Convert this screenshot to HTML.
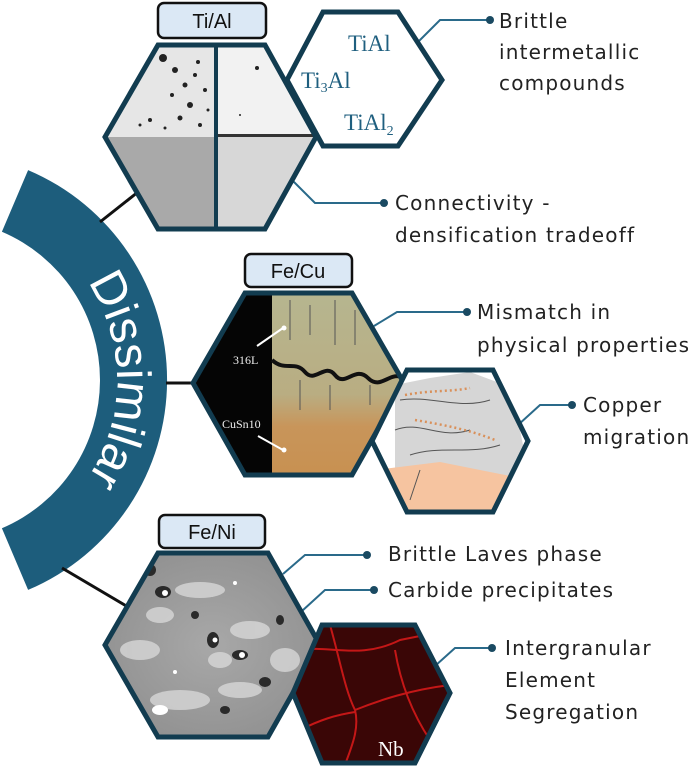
<!DOCTYPE html>
<html><head><meta charset="utf-8"><style>
html,body{margin:0;padding:0;background:#fff;}
svg{display:block;}
.lb{font-family:"DejaVu Sans","Liberation Sans",sans-serif;font-size:20px;letter-spacing:1.2px;fill:#222;}
.tag{font-family:"Liberation Sans",sans-serif;font-size:20px;fill:#111;}
.ser{font-family:"Liberation Serif",serif;fill:#1f5f7f;font-size:23px;}
</style></head><body>
<svg width="699" height="768" viewBox="0 0 699 768" xmlns="http://www.w3.org/2000/svg">
<defs>
<clipPath id="h1"><polygon points="105,137 158,45 265,45 316,137 265,229 158,229"/></clipPath>
<clipPath id="h2"><polygon points="193,383 245,293 352,293 404,383 352,475 245,475"/></clipPath>
<clipPath id="h3"><polygon points="372,441 407,370 493,370 528,441 493,512 407,512"/></clipPath>
<clipPath id="h4"><polygon points="105,645 158,553 268,553 320,645 268,737 158,737"/></clipPath>
<clipPath id="h5"><polygon points="293,693 322,625 415,625 450,693 415,763 322,763"/></clipPath>
<linearGradient id="cu" x1="0" y1="0" x2="0" y2="1"><stop offset="0" stop-color="#b6b690"/><stop offset="0.55" stop-color="#b9ad82"/><stop offset="0.72" stop-color="#c8955a"/><stop offset="1" stop-color="#c89050"/></linearGradient>
<radialGradient id="sem" cx="0.5" cy="0.5" r="0.7"><stop offset="0" stop-color="#a8a8a8"/><stop offset="1" stop-color="#8a8a8a"/></radialGradient>
<path id="arcp" d="M 28 225.8 A 178 178 0 0 1 28 534.2"/>
</defs>

<path d="M 28.1 170.1 A 228 228 0 0 1 28.1 589.9 L 1.9 528.2 A 161 161 0 0 0 1.9 231.8 Z" fill="#1d5d7c"/>
<text font-family="Liberation Sans,sans-serif" font-size="48" fill="#fff"><textPath href="#arcp" startOffset="50%" text-anchor="middle">Dissimilar</textPath></text>

<line x1="100" y1="222" x2="138" y2="192" stroke="#111" stroke-width="3"/>
<line x1="166" y1="383" x2="195" y2="383" stroke="#111" stroke-width="3"/>
<line x1="62" y1="568" x2="128" y2="607" stroke="#111" stroke-width="3"/>

<g stroke="#2a6a8a" stroke-width="2" fill="none">
<polyline points="418,42 440,20 488,20"/>
<polyline points="292,180 315,203 382,203"/>
<polyline points="374,326 397,312 465,312"/>
<polyline points="518,425 540,405 570,405"/>
<polyline points="283,574 305,555 365,555"/>
<polyline points="302,611 325,590 372,590"/>
<polyline points="435,666 455,648 490,648"/>
</g>
<g fill="#1a4a62">
<circle cx="490" cy="20" r="4"/><circle cx="384" cy="203" r="4"/><circle cx="467" cy="312" r="4"/><circle cx="572" cy="405" r="4"/><circle cx="367" cy="555" r="4"/><circle cx="374" cy="590" r="4"/><circle cx="492" cy="648" r="4"/>
</g>
<g class="lb">
<text x="499" y="28">Brittle</text><text x="499" y="59">intermetallic</text><text x="499" y="90">compounds</text>
<text x="395" y="210">Connectivity -</text><text x="395" y="242">densification tradeoff</text>
<text x="477" y="319">Mismatch in</text><text x="477" y="352">physical properties</text>
<text x="583" y="412">Copper</text><text x="583" y="444">migration</text>
<text x="388" y="561">Brittle Laves phase</text>
<text x="388" y="597">Carbide precipitates</text>
<text x="505" y="655">Intergranular</text><text x="505" y="687">Element</text><text x="505" y="719">Segregation</text>
</g>

<rect x="158" y="3" width="108" height="35" rx="6" fill="#dbe8f5" stroke="#111" stroke-width="2.5"/>
<text class="tag" x="212" y="28" text-anchor="middle">Ti/Al</text>
<g clip-path="url(#h1)">
<rect x="100" y="40" width="116" height="97" fill="#e6e6e6"/>
<rect x="216" y="40" width="110" height="97" fill="#f2f2f2"/>
<rect x="100" y="137" width="116" height="95" fill="#a9a9a9"/>
<rect x="216" y="137" width="110" height="95" fill="#d7d7d7"/>
<g fill="#222">
<circle cx="163" cy="58" r="4"/><circle cx="175" cy="70" r="3"/><circle cx="185" cy="85" r="2.5"/><circle cx="198" cy="62" r="2"/><circle cx="172" cy="95" r="2"/><circle cx="190" cy="105" r="3"/><circle cx="205" cy="90" r="2"/><circle cx="150" cy="120" r="2"/><circle cx="165" cy="128" r="1.5"/><circle cx="180" cy="118" r="2.5"/><circle cx="200" cy="125" r="2"/><circle cx="195" cy="75" r="2"/><circle cx="208" cy="110" r="1.5"/><circle cx="140" cy="125" r="1.5"/><circle cx="257" cy="68" r="2"/><circle cx="240" cy="115" r="1"/>
</g>
<rect x="216" y="134" width="110" height="3" fill="#333"/>
<rect x="214" y="40" width="4" height="195" fill="#123c50"/>
</g>
<polygon points="105,137 158,45 265,45 316,137 265,229 158,229" fill="none" stroke="#123c50" stroke-width="5"/>
<polygon points="287,80 323,12 398,12 442,80 398,146 323,146" fill="#fff" stroke="#123c50" stroke-width="5"/>
<text class="ser" x="348" y="51">TiAl</text>
<text class="ser" x="301" y="88">Ti<tspan font-size="14" dy="4">3</tspan><tspan dy="-4">Al</tspan></text>
<text class="ser" x="344" y="130">TiAl<tspan font-size="14" dy="5">2</tspan></text>

<rect x="245" y="254" width="107" height="33" rx="6" fill="#dbe8f5" stroke="#111" stroke-width="2.5"/>
<text class="tag" x="298" y="278" text-anchor="middle">Fe/Cu</text>
<g clip-path="url(#h2)">
<rect x="190" y="290" width="220" height="190" fill="url(#cu)"/>
<rect x="190" y="290" width="82" height="190" fill="#050505"/>
<path d="M272,360 C285,372 295,360 305,372 S325,362 335,375 S355,365 368,378 S390,370 404,378" stroke="#111" stroke-width="4" fill="none"/>
<g stroke="#555" stroke-width="1" fill="none"><path d="M290,300 v40"/><path d="M310,305 v30"/><path d="M335,300 v45"/><path d="M355,310 v35"/><path d="M300,380 v30"/><path d="M330,385 v25"/><path d="M370,385 v20"/></g>
<line x1="257" y1="346" x2="283" y2="328" stroke="#fff" stroke-width="2"/><circle cx="284" cy="328" r="2.5" fill="#fff"/>
<line x1="258" y1="436" x2="283" y2="450" stroke="#fff" stroke-width="2"/><circle cx="284" cy="450" r="2.5" fill="#fff"/>
<text x="233" y="364" font-family="Liberation Serif,serif" font-size="12" fill="#eee">316L</text>
<text x="222" y="428" font-family="Liberation Serif,serif" font-size="12" fill="#eee">CuSn10</text>
</g>
<polygon points="193,383 245,293 352,293 404,383 352,475 245,475" fill="none" stroke="#123c50" stroke-width="5"/>
<g clip-path="url(#h3)">
<rect x="365" y="365" width="170" height="150" fill="#fff"/>
<path d="M395,385 L430,378 L470,372 L505,385 L520,430 L528,470 L500,512 L395,512 Z" fill="#d6d6d6"/>
<path d="M375,470 L440,462 L480,470 L530,480 L530,515 L370,515 Z" fill="#f6c4a0"/>
<g stroke="#555" stroke-width="1" fill="none"><path d="M400,400 C430,395 460,410 490,400"/><path d="M395,430 C420,420 440,440 470,430"/><path d="M410,455 C440,445 470,455 500,445"/><path d="M420,470 L410,500"/></g>
<g stroke="#d9905a" stroke-width="2.5" stroke-dasharray="2 3" fill="none"><path d="M405,395 C430,390 450,392 470,388"/><path d="M415,420 C445,425 470,430 495,440"/></g>
</g>
<polygon points="372,441 407,370 493,370 528,441 493,512 407,512" fill="none" stroke="#123c50" stroke-width="5"/>

<rect x="159" y="515" width="106" height="33" rx="6" fill="#dbe8f5" stroke="#111" stroke-width="2.5"/>
<text class="tag" x="212" y="539" text-anchor="middle">Fe/Ni</text>
<g clip-path="url(#h4)">
<rect x="100" y="548" width="225" height="195" fill="url(#sem)"/>
<g fill="#d8d8d8" opacity="0.8">
<ellipse cx="140" cy="650" rx="20" ry="10"/><ellipse cx="200" cy="590" rx="25" ry="8"/><ellipse cx="250" cy="630" rx="20" ry="9"/><ellipse cx="180" cy="700" rx="30" ry="10"/><ellipse cx="240" cy="690" rx="22" ry="8"/><ellipse cx="285" cy="660" rx="15" ry="12"/><ellipse cx="160" cy="615" rx="14" ry="8"/><ellipse cx="220" cy="660" rx="12" ry="8"/>
</g>
<g fill="#2a2a2a">
<ellipse cx="163" cy="592" rx="8" ry="6"/><ellipse cx="213" cy="640" rx="6" ry="8"/><ellipse cx="240" cy="655" rx="8" ry="5"/><ellipse cx="265" cy="682" rx="6" ry="5"/><ellipse cx="150" cy="570" rx="6" ry="6"/><ellipse cx="195" cy="615" rx="4" ry="4"/><ellipse cx="280" cy="620" rx="4" ry="5"/><ellipse cx="225" cy="710" rx="5" ry="4"/>
</g>
<g fill="#fff"><circle cx="165" cy="593" r="3"/><circle cx="215" cy="640" r="2.5"/><circle cx="242" cy="655" r="3"/><circle cx="175" cy="672" r="2"/><circle cx="235" cy="583" r="2"/><ellipse cx="160" cy="710" rx="8" ry="5"/></g>
</g>
<polygon points="105,645 158,553 268,553 320,645 268,737 158,737" fill="none" stroke="#123c50" stroke-width="5"/>
<g clip-path="url(#h5)">
<rect x="290" y="620" width="165" height="148" fill="#3a0606"/>
<g stroke="#d41a1a" stroke-width="2" fill="none" opacity="0.9">
<path d="M300,650 C330,645 360,660 400,640 L440,632"/>
<path d="M330,625 C340,660 345,690 355,710 C360,730 350,750 345,765"/>
<path d="M355,710 C380,700 410,690 450,685"/>
<path d="M395,650 C400,680 410,710 430,740"/>
<path d="M300,730 C320,720 335,715 355,712"/>
</g>
<text x="378" y="756" font-family="Liberation Serif,serif" font-size="21" fill="#fff">Nb</text>
</g>
<polygon points="293,693 322,625 415,625 450,693 415,763 322,763" fill="none" stroke="#123c50" stroke-width="5"/>
</svg>
</body></html>
